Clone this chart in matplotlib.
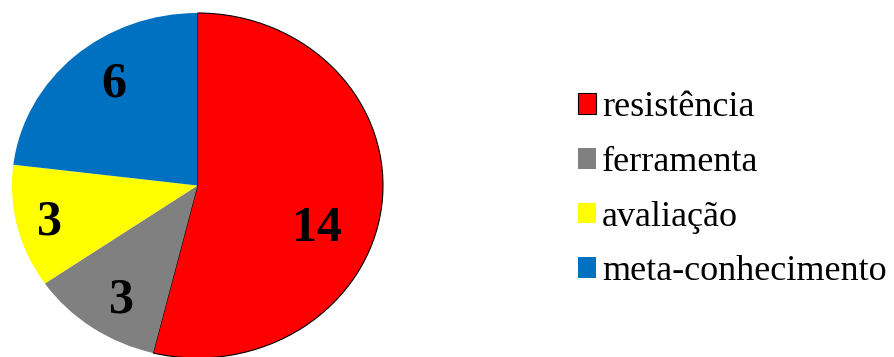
import matplotlib
matplotlib.use("Agg")
import matplotlib.pyplot as plt

categories = ["resistência", "ferramenta", "avaliação", "meta-conhecimento"]
values = [14, 3, 3, 6]
colors = ["#FF0000", "#808080", "#FFFF00", "#0070C0"]

# where each count sits inside its slice (data coords, pie radius 1)
label_pos = [(0.644, -0.252), (-0.410, -0.664), (-0.798, -0.212), (-0.450, 0.583)]

plt.rcParams["font.family"] = ["Liberation Serif", "DejaVu Serif"]

fig = plt.figure(figsize=(8.94, 3.57), dpi=100)
ax = fig.add_axes([12 / 894, -1 / 357, 371 / 894, 345 / 357])

wedges, _ = ax.pie(
    values,
    colors=colors,
    startangle=90,
    counterclock=False,
    radius=1,
)
wedges[0].set_edgecolor("black")
wedges[0].set_linewidth(0.8)

ax.set_aspect("auto")
ax.set_xlim(-1, 1)
ax.set_ylim(-1, 1)
ax.axis("off")

for v, (x, y) in zip(values, label_pos):
    ax.text(x, y, str(v), ha="center", va="center", fontsize=36,
            fontweight="bold", color="black", family="Liberation Serif")

fig.legend(
    wedges,
    categories,
    loc="center left",
    bbox_to_anchor=(578 / 894, 1 - 190 / 357),
    frameon=False,
    prop={"family": "Liberation Serif", "size": 26},
    handlelength=0.5,
    handleheight=0.5,
    handletextpad=0.17,
    labelspacing=0.6,
    borderpad=0,
    borderaxespad=0,
)

fig.savefig("out.png", dpi=100)
